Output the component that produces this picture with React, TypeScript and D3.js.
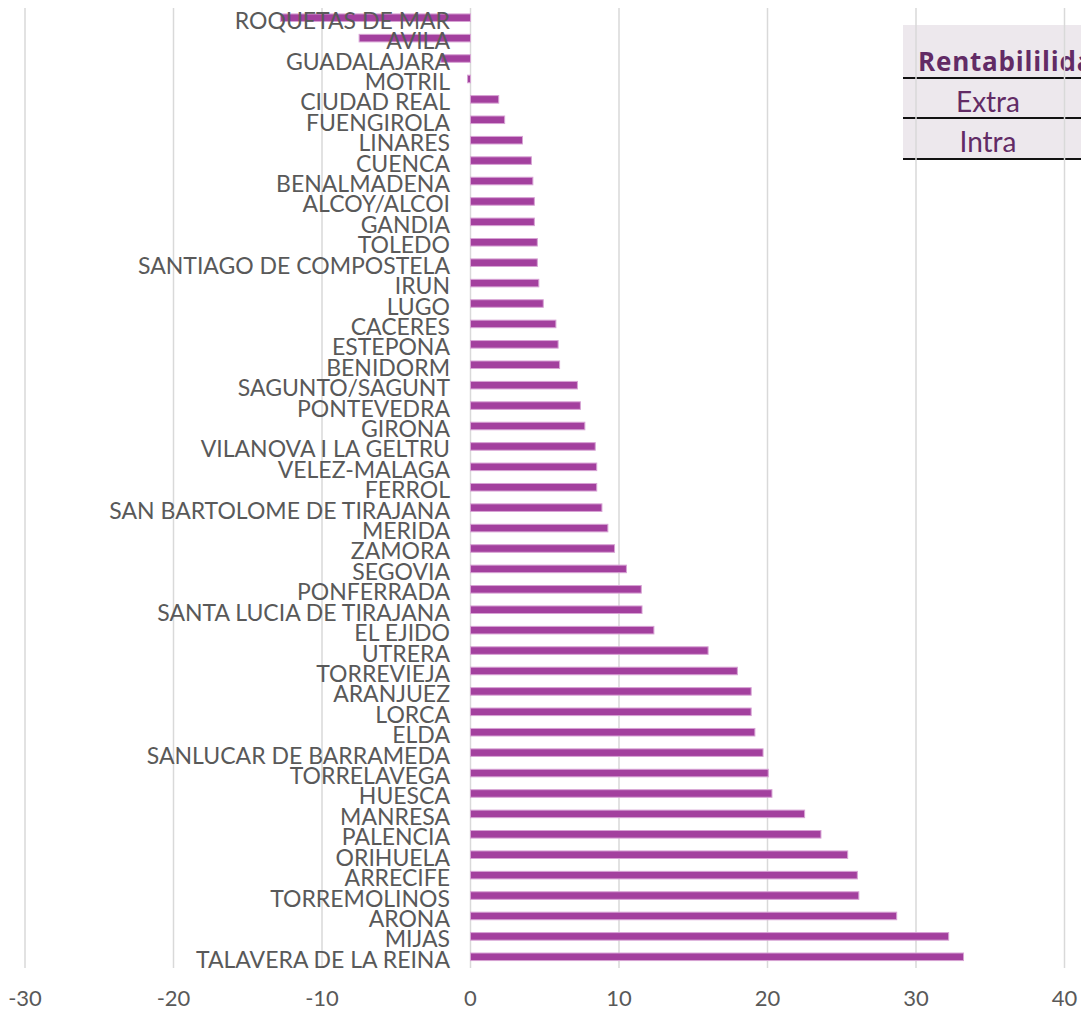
import React, { useEffect, useRef } from 'react';
import * as d3 from 'd3';

const cities = [
  'ROQUETAS DE MAR', 'AVILA', 'GUADALAJARA', 'MOTRIL', 'CIUDAD REAL', 'FUENGIROLA',
  'LINARES', 'CUENCA', 'BENALMADENA', 'ALCOY/ALCOI', 'GANDIA', 'TOLEDO',
  'SANTIAGO DE COMPOSTELA', 'IRUN', 'LUGO', 'CACERES', 'ESTEPONA', 'BENIDORM',
  'SAGUNTO/SAGUNT', 'PONTEVEDRA', 'GIRONA', 'VILANOVA I LA GELTRU', 'VELEZ-MALAGA',
  'FERROL', 'SAN BARTOLOME DE TIRAJANA', 'MERIDA', 'ZAMORA', 'SEGOVIA', 'PONFERRADA',
  'SANTA LUCIA DE TIRAJANA', 'EL EJIDO', 'UTRERA', 'TORREVIEJA', 'ARANJUEZ', 'LORCA',
  'ELDA', 'SANLUCAR DE BARRAMEDA', 'TORRELAVEGA', 'HUESCA', 'MANRESA', 'PALENCIA',
  'ORIHUELA', 'ARRECIFE', 'TORREMOLINOS', 'ARONA', 'MIJAS', 'TALAVERA DE LA REINA',
];

const values = [
  -12.8, -7.5, -2.0, -0.2, 1.9, 2.3,
  3.5, 4.1, 4.2, 4.3, 4.3, 4.5,
  4.5, 4.6, 4.9, 5.75, 5.9, 6.0,
  7.2, 7.4, 7.7, 8.4, 8.5,
  8.5, 8.85, 9.25, 9.7, 10.5, 11.5,
  11.55, 12.35, 16.0, 17.97, 18.9, 18.9,
  19.15, 19.7, 20.05, 20.3, 22.5, 23.6,
  25.4, 26.05, 26.15, 28.7, 32.2, 33.2,
];

const xTicks = [-30, -20, -10, 0, 10, 20, 30, 40];
const legendTitle = 'Rentabililidad';
const legendRows = ['Extra', 'Intra'];

const App = () => {
  const chartRef = useRef<HTMLDivElement>(null);

  useEffect(() => {
    if (!chartRef.current) return;
    d3.select(chartRef.current).selectAll('*').remove();

    const width = 1081;
    const height = 1010;
    const font = 'Lato, "Open Sans", sans-serif';
    const textColor = '#595959';

    const svg = d3
      .select(chartRef.current)
      .append('svg')
      .attr('width', width)
      .attr('height', height)
      .style('position', 'absolute')
      .style('left', '0px')
      .style('top', '0px')
      .style('overflow', 'hidden');

    const x = d3.scaleLinear().domain([-30, 40]).range([25, 1064.5]);

    const y = d3
      .scaleBand<string>()
      .domain(cities)
      .range([7.5, 967])
      .paddingInner(0.63)
      .paddingOuter(0.315);

    // Legend box (sits under the gridlines)
    const lg = svg.append('g');
    lg.append('rect')
      .attr('x', 903)
      .attr('y', 25)
      .attr('width', width - 903)
      .attr('height', 135)
      .attr('fill', '#ede8ed');
    lg.append('text')
      .attr('x', 918)
      .attr('y', 71)
      .attr('font-family', '"Open Sans", Lato, sans-serif')
      .attr('font-size', 26)
      .attr('font-weight', 'bold')
      .attr('letter-spacing', 0.8)
      .attr('fill', '#622b65')
      .text(legendTitle);
    [78, 118, 159].forEach((ly) => {
      lg.append('line')
        .attr('x1', 903)
        .attr('x2', width)
        .attr('y1', ly)
        .attr('y2', ly)
        .attr('stroke', '#111')
        .attr('stroke-width', 2);
    });
    legendRows.forEach((r, i) => {
      lg.append('text')
        .attr('x', 988)
        .attr('y', 112 + i * 40)
        .attr('text-anchor', 'middle')
        .attr('font-family', font)
        .attr('font-size', 28)
        .attr('fill', '#622b65')
        .text(r);
    });

    // Gridlines
    svg
      .append('g')
      .selectAll('line')
      .data(xTicks)
      .join('line')
      .attr('x1', (d) => x(d))
      .attr('x2', (d) => x(d))
      .attr('y1', 8)
      .attr('y2', 968)
      .attr('stroke', '#d9d9d9')
      .attr('stroke-width', 1.5);

    // Bars
    svg
      .append('g')
      .selectAll('rect')
      .data(values)
      .join('rect')
      .attr('x', (d) => x(Math.min(0, d)))
      .attr('y', (_, i) => y(cities[i]) as number)
      .attr('width', (d) => Math.abs(x(d) - x(0)))
      .attr('height', y.bandwidth())
      .attr('fill', '#a3409e')
      .attr('stroke', '#d7a3d4')
      .attr('stroke-width', 1);

    // Category labels (drawn over the bars)
    svg
      .append('g')
      .selectAll('text')
      .data(cities)
      .join('text')
      .attr('x', 450)
      .attr('y', (d) => (y(d) as number) + y.bandwidth() / 2 + 11)
      .attr('text-anchor', 'end')
      .attr('font-family', font)
      .attr('font-size', 23)
      .attr('fill', textColor)
      .text((d) => d);

    // X tick labels
    svg
      .append('g')
      .selectAll('text')
      .data(xTicks)
      .join('text')
      .attr('x', (d) => x(d))
      .attr('y', 1006)
      .attr('text-anchor', 'middle')
      .attr('font-family', font)
      .attr('font-size', 22)
      .attr('fill', textColor)
      .text((d) => d);
  }, []);

  return <div ref={chartRef}></div>;
};

export default App;
